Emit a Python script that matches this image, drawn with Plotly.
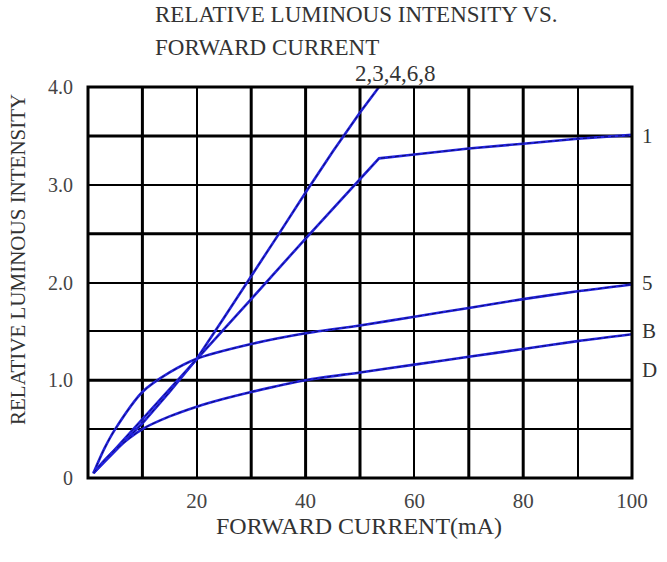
import plotly.graph_objects as go

# ---- data ----
x_248 = [1, 5, 10, 15, 20, 25, 30, 35, 40, 45, 50, 53.5]
y_248 = [0.05, 0.28, 0.56, 0.88, 1.22, 1.64, 2.06, 2.49, 2.92, 3.34, 3.74, 4.0]

x_1 = [1, 10, 20, 30, 40, 50, 53.5, 60, 70, 80, 90, 100]
y_1 = [0.05, 0.6, 1.22, 1.83, 2.45, 3.06, 3.27, 3.31, 3.37, 3.42, 3.47, 3.51]

x_5 = [1, 3, 5, 10, 15, 20, 30, 40, 50, 60, 70, 80, 90, 100]
y_5 = [0.05, 0.3, 0.5, 0.88, 1.08, 1.22, 1.37, 1.48, 1.56, 1.65, 1.74, 1.83, 1.91, 1.98]

x_d = [1, 3, 5, 10, 15, 20, 25, 30, 40, 50, 60, 70, 80, 90, 100]
y_d = [0.05, 0.18, 0.29, 0.5, 0.63, 0.73, 0.81, 0.88, 1.0, 1.08, 1.16, 1.24, 1.32, 1.40, 1.47]

x_tickvals = [0, 10, 20, 30, 40, 50, 60, 70, 80, 90, 100]
x_ticktext = ["", "", "20", "", "40", "", "60", "", "80", "", "100"]
y_tickvals = [0, 0.5, 1.0, 1.5, 2.0, 2.5, 3.0, 3.5, 4.0]
y_ticktext = ["0", "", "1.0", "", "2.0", "", "3.0", "", "4.0"]

thick_x = [10, 30, 40, 50, 70, 80]
thick_y = [1.0, 2.5, 3.5]

curve_labels = [("1", 100, 3.5), ("5", 100, 2.0), ("B", 100, 1.5), ("D", 100, 1.1)]

SERIF = "Liberation Serif, Times New Roman, serif"
BLUE = "#2222dd"
DARK = "#0c0c6e"
TXT = "#333333"

fig = go.Figure()

series = [(x_248, y_248, "linear"), (x_1, y_1, "linear"),
          (x_5, y_5, "spline"), (x_d, y_d, "spline")]
for xs, ys, shp in series:
    fig.add_trace(go.Scatter(x=xs, y=ys, mode="lines",
                             line=dict(color=BLUE, width=2.6, shape=shp, smoothing=0.8),
                             showlegend=False, hoverinfo="skip"))
    fig.add_trace(go.Scatter(x=xs, y=ys, mode="lines",
                             line=dict(color=DARK, width=1, dash="4px,3px", shape=shp, smoothing=0.8),
                             showlegend=False, hoverinfo="skip"))

shapes = []
for v in thick_x:
    shapes.append(dict(type="line", xref="x", yref="paper", x0=v, x1=v, y0=0, y1=1,
                       line=dict(color="black", width=3), layer="below"))
for v in thick_y:
    shapes.append(dict(type="line", xref="paper", yref="y", x0=0, x1=1, y0=v, y1=v,
                       line=dict(color="black", width=3), layer="below"))
shapes.append(dict(type="rect", xref="paper", yref="paper", x0=0, x1=1, y0=0, y1=1,
                   line=dict(color="black", width=3)))

annotations = [
    dict(text="RELATIVE LUMINOUS INTENSITY VS.", xref="paper", yref="paper",
         x=0.1195, y=1.1867, xanchor="left", yanchor="middle", showarrow=False,
         font=dict(family=SERIF, size=23, color=TXT)),
    dict(text="FORWARD CURRENT", xref="paper", yref="paper",
         x=0.1195, y=1.1023, xanchor="left", yanchor="middle", showarrow=False,
         font=dict(family=SERIF, size=23, color=TXT)),
    dict(text="RELATIVE LUMINOUS INTENSITY", xref="paper", yref="paper",
         x=0, xshift=-70, y=0.5575, textangle=-90, xanchor="center", yanchor="middle",
         showarrow=False, font=dict(family=SERIF, size=21, color=TXT)),
    dict(text="FORWARD CURRENT(mA)", xref="paper", yref="paper",
         x=0.498, y=0, yshift=-48, xanchor="center", yanchor="middle",
         showarrow=False, font=dict(family=SERIF, size=24, color=TXT)),
    dict(text="2,3,4,6,8", xref="x", yref="paper", x=56.6, y=1, yshift=14,
         xanchor="center", yanchor="middle", showarrow=False,
         font=dict(family=SERIF, size=23, color=TXT)),
]
for t, xv, yv in curve_labels:
    annotations.append(dict(text=t, xref="x", yref="y", x=xv, y=yv, xshift=8,
                            xanchor="left", yanchor="middle", showarrow=False,
                            font=dict(family=SERIF, size=21, color=TXT)))

fig.update_layout(
    width=667, height=562,
    margin=dict(l=88, r=35, t=87, b=84),
    paper_bgcolor="white", plot_bgcolor="white",
    shapes=shapes, annotations=annotations,
    xaxis=dict(range=[0, 100], tickvals=x_tickvals, ticktext=x_ticktext,
               showgrid=True, gridcolor="black", gridwidth=1.8, zeroline=False,
               showline=False, ticks="outside", ticklen=4, tickcolor="rgba(0,0,0,0)",
               tickfont=dict(family=SERIF, size=21, color="#444444")),
    yaxis=dict(range=[0, 4], tickvals=y_tickvals, ticktext=y_ticktext,
               showgrid=True, gridcolor="black", gridwidth=1.8, zeroline=False,
               showline=False, ticks="outside", ticklen=10, tickcolor="rgba(0,0,0,0)",
               tickfont=dict(family=SERIF, size=20, color="#444444")),
)

fig.write_html("out.html",
               config={"displayModeBar": False},
               post_script="document.body.style.margin='0px';document.body.style.overflow='hidden';")
